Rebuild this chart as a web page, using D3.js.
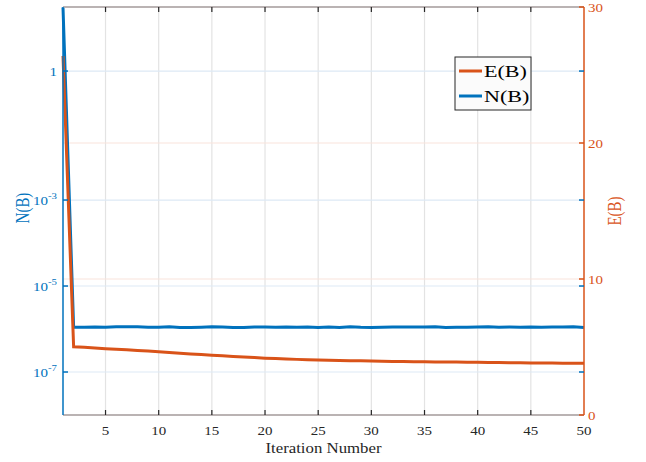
<!DOCTYPE html>
<html>
<head>
<meta charset="utf-8">
<script src="https://cdn.jsdelivr.net/npm/d3@7"></script>
<style>
  body { margin: 0; background: #fff; }
  svg { font-family: "Liberation Serif", "DejaVu Serif", serif; }
</style>
</head>
<body>
<div id="chart"></div>
<script>
var svgWidth = 646;
var svgHeight = 462;

var margin = { top: 7, right: 62, bottom: 47, left: 63 };
var width = svgWidth - margin.left - margin.right;
var height = svgHeight - margin.top - margin.bottom;

// the original text looks stretched sideways a bit
var stretch = 1.2;

// data
var iterations = d3.range(1, 51);
var nValues = [30, 1.10e-6, 1.10e-6, 1.12e-6, 1.10e-6, 1.13e-6, 1.13e-6, 1.13e-6, 1.10e-6, 1.10e-6,
  1.13e-6, 1.09e-6, 1.08e-6, 1.10e-6, 1.13e-6, 1.11e-6, 1.09e-6, 1.08e-6, 1.12e-6, 1.11e-6,
  1.10e-6, 1.12e-6, 1.10e-6, 1.11e-6, 1.09e-6, 1.12e-6, 1.09e-6, 1.13e-6, 1.10e-6, 1.09e-6,
  1.10e-6, 1.12e-6, 1.11e-6, 1.12e-6, 1.12e-6, 1.13e-6, 1.09e-6, 1.10e-6, 1.10e-6, 1.12e-6,
  1.13e-6, 1.10e-6, 1.12e-6, 1.10e-6, 1.12e-6, 1.10e-6, 1.11e-6, 1.11e-6, 1.13e-6, 1.08e-6];
var eValues = [26.4, 5.02, 4.98, 4.93, 4.88, 4.83, 4.79, 4.74, 4.70, 4.65,
  4.59, 4.54, 4.49, 4.44, 4.40, 4.35, 4.31, 4.27, 4.22, 4.18,
  4.15, 4.12, 4.09, 4.06, 4.04, 4.02, 4.01, 3.99, 3.98, 3.97,
  3.96, 3.94, 3.93, 3.92, 3.91, 3.90, 3.90, 3.89, 3.88, 3.87,
  3.86, 3.86, 3.85, 3.84, 3.83, 3.82, 3.82, 3.81, 3.81, 3.80];

var xTicks = [5, 10, 15, 20, 25, 30, 35, 40, 45, 50];
var leftTicks = [1, 1e-3, 1e-5, 1e-7];
var leftTickExp = [null, "-3", "-5", "-7"];
var rightTicks = [0, 10, 20, 30];

var blue = "#0072BD";
var orange = "#D95319";
var textDark = "#262626";

var svg = d3.select("#chart").append("svg")
  .attr("width", svgWidth)
  .attr("height", svgHeight);

var g = svg.append("g")
  .attr("transform", `translate(${margin.left}, ${margin.top})`);

var x = d3.scaleLinear().domain([1, 50]).range([0, width]);
var yLeft = d3.scaleLog().domain([1e-8, Math.pow(10, 1.49)]).range([height, 0]);
var yRight = d3.scaleLinear().domain([0, 30]).range([height, 0]);

// grid lines
g.selectAll(".xgrid").data(xTicks.slice(0, -1)).enter().append("line")
  .attr("x1", d => x(d)).attr("x2", d => x(d))
  .attr("y1", 0).attr("y2", height)
  .attr("stroke", "#e3e3e3").attr("stroke-width", 1.2);

g.selectAll(".lgrid").data(leftTicks).enter().append("line")
  .attr("x1", 0).attr("x2", width)
  .attr("y1", d => yLeft(d)).attr("y2", d => yLeft(d))
  .attr("stroke", "#dde9f5").attr("stroke-width", 1.2);

g.selectAll(".rgrid").data([10, 20]).enter().append("line")
  .attr("x1", 0).attr("x2", width)
  .attr("y1", d => yRight(d)).attr("y2", d => yRight(d))
  .attr("stroke", "#f9e3dc").attr("stroke-width", 1.2);

// data lines
var nLine = d3.line().x((d, i) => x(iterations[i])).y(d => yLeft(d));
var eLine = d3.line().x((d, i) => x(iterations[i])).y(d => yRight(d));

g.append("path").datum(nValues)
  .attr("d", nLine)
  .attr("fill", "none").attr("stroke", blue).attr("stroke-width", 3);

g.append("path").datum(eValues)
  .attr("d", eLine)
  .attr("fill", "none").attr("stroke", orange).attr("stroke-width", 3);

// box lines
g.append("line").attr("x1", 0).attr("x2", width).attr("y1", 0).attr("y2", 0)
  .attr("stroke", "#a39a9a").attr("stroke-width", 1.5);
g.append("line").attr("x1", 0).attr("x2", width).attr("y1", height).attr("y2", height)
  .attr("stroke", "#a39a9a").attr("stroke-width", 1.5);
g.append("line").attr("x1", 0).attr("x2", 0).attr("y1", 0).attr("y2", height)
  .attr("stroke", blue).attr("stroke-width", 1.5);
g.append("line").attr("x1", width).attr("x2", width).attr("y1", 0).attr("y2", height)
  .attr("stroke", orange).attr("stroke-width", 1.5);

// x ticks (inward, top and bottom)
g.selectAll(".xtb").data(xTicks.slice(0, -1)).enter().append("line")
  .attr("x1", d => x(d)).attr("x2", d => x(d))
  .attr("y1", height).attr("y2", height - 5)
  .attr("stroke", textDark).attr("stroke-width", 1.2);
g.selectAll(".xtt").data(xTicks.slice(0, -1)).enter().append("line")
  .attr("x1", d => x(d)).attr("x2", d => x(d))
  .attr("y1", 0).attr("y2", 5)
  .attr("stroke", textDark).attr("stroke-width", 1.2);

g.selectAll(".xlab").data(xTicks).enter().append("text")
  .attr("transform", d => `translate(${x(d)}, ${height + 20}) scale(${stretch}, 1)`)
  .attr("text-anchor", "middle")
  .attr("fill", textDark).style("font-size", "12.5px")
  .text(d => d);

g.append("text")
  .attr("transform", `translate(${width / 2}, ${height + 38}) scale(${stretch}, 1)`)
  .attr("text-anchor", "middle")
  .attr("fill", textDark).style("font-size", "14px")
  .text("Iteration Number");

// left axis ticks and labels
g.selectAll(".ltl").data(leftTicks).enter().append("line")
  .attr("x1", 0).attr("x2", 5)
  .attr("y1", d => yLeft(d)).attr("y2", d => yLeft(d))
  .attr("stroke", blue).attr("stroke-width", 1.5);
g.selectAll(".ltr").data(leftTicks).enter().append("line")
  .attr("x1", width).attr("x2", width - 5)
  .attr("y1", d => yLeft(d)).attr("y2", d => yLeft(d))
  .attr("stroke", blue).attr("stroke-width", 1.5);

var leftLabels = g.selectAll(".llab").data(leftTicks).enter().append("text")
  .attr("transform", d => `translate(-6, ${yLeft(d) + 5}) scale(${stretch}, 1)`)
  .attr("text-anchor", "end")
  .attr("fill", blue).style("font-size", "12.5px");
leftLabels.each(function (d, i) {
  var t = d3.select(this);
  if (leftTickExp[i] === null) {
    t.text("1");
  } else {
    t.append("tspan").text("10");
    t.append("tspan").attr("dy", -6).style("font-size", "9px").text(leftTickExp[i]);
  }
});

g.append("text")
  .attr("transform", `translate(${-34}, ${yLeft(1e-3) + 8}) rotate(-90) scale(1, ${stretch})`)
  .attr("text-anchor", "middle")
  .attr("fill", blue).style("font-size", "15px")
  .text("N(B)");

// right axis ticks and labels
g.selectAll(".rt").data(rightTicks).enter().append("line")
  .attr("x1", width).attr("x2", width - 5)
  .attr("y1", d => yRight(d)).attr("y2", d => yRight(d))
  .attr("stroke", orange).attr("stroke-width", 1.5);

g.selectAll(".rlab").data(rightTicks).enter().append("text")
  .attr("transform", d => `translate(${width + 4}, ${yRight(d) + 5}) scale(${stretch}, 1)`)
  .attr("text-anchor", "start")
  .attr("fill", orange).style("font-size", "12.5px")
  .text(d => d);

g.append("text")
  .attr("transform", `translate(${width + 37}, ${yRight(15)}) rotate(-90) scale(1, ${stretch})`)
  .attr("text-anchor", "middle")
  .attr("fill", orange).style("font-size", "15px")
  .text("E(B)");

// legend
var legend = svg.append("g").attr("transform", "translate(455, 57)");
legend.append("rect")
  .attr("width", 76).attr("height", 53)
  .attr("fill", "#fbfbfb").attr("stroke", textDark).attr("stroke-width", 1);
var legendItems = [["E(B)", orange], ["N(B)", blue]];
legendItems.forEach(function (item, i) {
  var yy = 14 + i * 25;
  legend.append("line")
    .attr("x1", 4).attr("x2", 27).attr("y1", yy).attr("y2", yy)
    .attr("stroke", item[1]).attr("stroke-width", 3);
  legend.append("text")
    .attr("transform", `translate(29, ${yy + 6}) scale(1.3, 1)`)
    .attr("fill", "#000").style("font-size", "17px")
    .text(item[0]);
});
</script>
</body>
</html>
